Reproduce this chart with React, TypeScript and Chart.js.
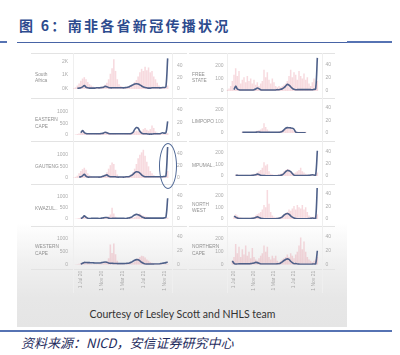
import React, { useEffect, useRef } from "react";
import { Chart, registerables } from "chart.js";
Chart.register(...registerables);

// ---------- DATA ----------
const dates = [
  "21 May 20", "1 Jun 20", "11 Jun 20", "21 Jun 20", "1 Jul 20", "11 Jul 20", "21 Jul 20", "1 Aug 20", "11 Aug 20", "21 Aug 20",
  "1 Sep 20", "11 Sep 20", "21 Sep 20", "1 Oct 20", "11 Oct 20", "21 Oct 20", "1 Nov 20", "11 Nov 20", "21 Nov 20", "1 Dec 20",
  "11 Dec 20", "21 Dec 20", "1 Jan 21", "11 Jan 21", "21 Jan 21", "1 Feb 21", "11 Feb 21", "21 Feb 21", "1 Mar 21", "11 Mar 21",
  "21 Mar 21", "1 Apr 21", "11 Apr 21", "21 Apr 21", "1 May 21", "11 May 21", "21 May 21", "1 Jun 21", "11 Jun 21", "21 Jun 21",
  "1 Jul 21", "11 Jul 21", "21 Jul 21", "1 Aug 21", "11 Aug 21", "21 Aug 21", "1 Sep 21", "11 Sep 21", "21 Sep 21", "1 Oct 21",
  "11 Oct 21", "21 Oct 21", "1 Nov 21", "11 Nov 21", "21 Nov 21", "1 Dec 21", "11 Dec 21",
];
const xTickLabels = ["1 Jul 20", "1 Nov 20", "1 Mar 21", "1 Jul 21", "1 Nov 21"];
const leftTicksNational = [0, 1000, 2000];
const leftTicksLarge = [0, 500, 1000];
const leftTicksSmall = [0, 100, 200];
const rightTicks = [0, 20, 40];

const saBars = [
  60, 120, 250, 400, 600, 750, 850, 700, 500, 350,
  250, 180, 130, 110, 120, 150, 170, 220, 300, 450,
  700, 1100, 1500, 2150, 1300, 700, 350, 220, 160, 130,
  140, 180, 220, 280, 350, 500, 650, 900, 1200, 1450,
  1300, 1600, 1350, 1550, 1200, 1300, 900, 700, 450, 250,
  150, 100, 80, 90, 250, null, null,
];
const saLine = [
  null, null, 1, 1.5, 2, 3.5, 6, 3, 2, 1.5,
  1.5, 1.5, 1.5, 2, 2, 2, 2.5, 3, 4.5, 4,
  2.5, 2, 2, 2, 2, 2, 2, 2, 2, 2,
  2.5, 3, 4, 5.5, 7, 8.5, 9, 8.5, 7, 5,
  3.5, 2.5, 2, 1.5, 1.5, 2, 2, 2, 2, 2,
  2, 2.5, 2.5, 3.5, 52, null, null,
];
const ecBars = [
  0, 20, 40, 60, 80, 120, 100, 80, 50, 40,
  30, 30, 30, 40, 50, 60, 80, 100, 130, 120,
  100, 80, 60, 50, 40, 30, 30, 30, 30, 30,
  40, 50, 60, 80, 100, 150, 180, 160, 120, 150,
  250, 300, 220, 180, 250, 400, 300, 150, 100, 60,
  40, 30, 30, 40, 80, null, null,
];
const ecLine = [
  null, null, null, null, 3.5, 7, 4, 2.5, 2, 2,
  2, 2, 2, 2, 2, 2, 2.5, 3, 4.5, 3.5,
  2.5, 2, 2, 2, 2, 2, 2, 2, 2, 2,
  2, 2, 2, 2.5, 4, 9, 12, 11, 6, 3,
  2, 2, 2, 1.5, 1.5, 1.5, 2, 2, 2, 2,
  2.5, 3.5, 3, 3.5, 22, null, null,
];
const gpBars = [
  20, 50, 100, 200, 300, 380, 440, 350, 200, 120,
  80, 60, 50, 50, 60, 70, 80, 100, 150, 250,
  400, 550, 660, 600, 350, 150, 80, 60, 50, 50,
  60, 80, 100, 150, 250, 400, 600, 850, 1000, 1100,
  1210, 950, 700, 500, 300, 200, 120, 80, 60, 40,
  30, 30, 40, 80, 300, null, null,
];
const gpLine = [
  null, null, null, 1.5, 2, 3.5, 6, 3, 1.5, 1.5,
  1.5, 1.5, 1.5, 1.5, 1.5, 1.5, 2, 3, 4, 5,
  3, 2, 2, 2, 2, 1.5, 1.5, 1.5, 1.5, 1.5,
  2, 2, 2.5, 4, 6, 8.5, 10, 9.5, 8, 5,
  3, 2, 2, 2, 2, 2, 2, 2, 2, 2,
  2, 2, 2.5, 3, 51, null, null,
];
const kznBars = [
  0, 10, 20, 40, 60, 100, 150, 90, 50, 30,
  20, 20, 20, 20, 20, 30, 40, 50, 60, 80,
  120, 200, 500, 250, 100, 50, 30, 20, 20, 20,
  20, 30, 40, 50, 60, 80, 120, 200, 250, 180,
  150, 120, 100, 80, 60, 50, 40, 30, 20, 20,
  20, 20, 20, 30, 60, null, null,
];
const kznLine = [
  null, null, null, null, 1, 2.5, 5.5, 3, 1.5, 1,
  1, 1, 1, 1, 1, 1, 1.5, 2, 2.5, 2.5,
  1.5, 1, 1, 1, 1, 1, 1, 1, 1, 1,
  1, 1.5, 2, 3, 5, 7, 8, 7.5, 6, 4,
  2.5, 1.5, 1.5, 1.5, 1.5, 1.5, 1.5, 1.5, 1.5, 1.5,
  1.5, 1.5, 2, 3, 36, null, null,
];
const wcBars = [
  0, 10, 20, 40, 60, 80, 100, 80, 60, 40,
  30, 20, 20, 20, 20, 30, 40, 60, 80, 120,
  250, 780, 450, 820, 400, 150, 60, 40, 30, 20,
  20, 30, 40, 60, 80, 120, 180, 250, 300, 350,
  330, 280, 200, 150, 100, 80, 60, 40, 30, 20,
  20, 20, 20, 30, 40, null, null,
];
const wcLine = [
  null, null, null, null, 0.5, 2, 3.3, 3.2, 3, 3,
  2.8, 2.8, 2.5, 2.5, 2.5, 2.5, 3, 3.5, 3.8, 3.5,
  2.5, 2, 2, 1.8, 1.8, 1.5, 1.5, 1.5, 1.5, 1.5,
  1.8, 2, 2.5, 3.5, 5, 6.5, 7.3, 7, 5.5, 3.5,
  2, 1, 0.8, 0.8, 0.8, 0.8, 0.8, 1, 1, 1,
  1.5, 2, 2.5, 3, 4, null, null,
];
const fsBars = [
  10, 20, 40, 80, 130, 183, 120, 160, 60, 90,
  110, 70, 120, 80, 100, 60, 90, 50, 70, 40,
  60, 80, 170, 110, 150, 90, 60, 100, 70, 40,
  30, 40, 30, 40, 50, 60, 80, 120, 170, 110,
  150, 130, 90, 160, 120, 100, 140, 90, 110, 60,
  40, 70, 100, 50, 80, null, null,
];
const fsLine = [
  null, null, null, null, 2, 7.3, 3, 2, 1.5, 1.5,
  1.5, 1.5, 1.5, 1.5, 1.5, 1.5, 2, 3, 4.6, 3.5,
  2, 1.5, 1.5, 1.5, 1.5, 1.5, 1.5, 1.5, 1.5, 1.5,
  2, 2, 2.5, 3.5, 5, 7.5, 10, 9, 6.5, 4,
  2.5, 2, 2, 2, 2, 2, 2, 2, 2, 2,
  2, 2, 2.5, 3, 50, null, null,
];
const lpBars = [
  null, null, null, null, null, null, null, null, null, 10,
  10, 10, 10, 10, 10, 10, 10, 15, 20, 25,
  30, 40, 82, 50, 30, 20, 10, 10, 10, 10,
  10, 15, 20, 25, 30, 40, 50, 45, 40, 30,
  20, 15, 10, 10, 10, 10, 10, 10, null, null,
  null, null, null, null, null, null, null,
];
const lpLine = [
  null, null, null, null, null, null, null, null, null, 1,
  1, 1, 1, 1, 1, 1, 1, 1.2, 1.5, 1.5,
  1.2, 1, 1, 1, 1, 1, 1, 1, 1, 1,
  1, 1.2, 1.5, 2.5, 5, 7.5, 8.4, 8.2, 8, 7.5,
  6, 1.5, 0.5, 0.5, 0.5, 0.5, 0.5, 0.5, null, null,
  null, null, null, null, null, null, null,
];
const mpBars = [
  0, 0, 0, 0, 0, 10, 15, 10, 10, 10,
  10, 10, 10, 10, 10, 15, 20, 20, 30, 40,
  50, 70, 117, 90, 100, 40, 20, 15, 10, 10,
  10, 15, 20, 25, 40, 50, 60, 55, 40, 30,
  25, 30, 40, 50, 70, 40, 30, 20, 15, 10,
  10, 10, 15, 20, 30, null, null,
];
const mpLine = [
  null, null, null, null, null, 1, 1, 0.8, 0.8, 0.8,
  0.8, 0.8, 0.8, 0.8, 0.8, 1, 1.5, 2, 3, 2.5,
  1, 0.8, 0.8, 0.5, 0.5, 0.5, 0.5, 0.5, 0.5, 0.5,
  0.5, 0.8, 1, 2, 4, 7, 9, 8.5, 7, 4,
  1.5, 0.8, 0.8, 0.8, 0.8, 0.8, 0.8, 0.8, 0.8, 1,
  1.5, 2, 1.5, 1.5, 41, null, null,
];
const nwBars = [
  0, 0, 0, 0, 20, 40, 30, 20, 15, 10,
  10, 10, 10, 10, 10, 15, 20, 30, 40, 50,
  60, 80, 120, 100, 246, 130, 60, 30, 20, 15,
  10, 15, 20, 30, 40, 50, 60, 80, 70, 90,
  110, 80, 120, 100, 90, 120, 80, 100, 60, 30,
  20, 15, 20, 30, 40, null, null,
];
const nwLine = [
  null, null, null, null, 4.3, 3, 1.5, 0.8, 0.8, 0.8,
  0.8, 0.8, 0.8, 0.8, 0.8, 1, 1.5, 2.5, 3.3, 2.5,
  1.2, 0.8, 0.5, 0.5, 0.5, 0.5, 0.5, 0.5, 0.5, 0.5,
  0.8, 1.2, 2, 3.5, 6, 8, 8.6, 7.5, 5, 3,
  1.5, 0.8, 0.5, 0.5, 0.5, 0.5, 0.5, 0.5, 0.5, 0.8,
  1, 1.5, 1, 0.8, 55, null, null,
];
const ncBars = [
  0, 0, 0, 30, 60, 162, 90, 140, 60, 120,
  80, 150, 70, 100, 50, 130, 60, 40, 30, 50,
  70, 90, 150, 100, 140, 60, 40, 70, 50, 70,
  30, 20, 30, 40, 50, 60, 80, 60, 90, 70,
  50, 80, 100, 150, 212, 120, 180, 100, 60, 40,
  30, 20, 30, 40, 60, null, null,
];
const ncLine = [
  null, null, null, 5.5, 2, 0.8, 1, 1.2, 1.2, 1.2,
  1.2, 1.2, 1.2, 1.2, 1.5, 2, 2.5, 3.3, 3, 2,
  1, 1, 1, 1, 1, 1, 1, 1, 1, 1,
  1.2, 1.5, 2.5, 4, 6, 7.5, 8.4, 7.5, 5, 3,
  1.5, 1.5, 1, 0.8, 0.5, 0.5, 0.5, 0.5, 0.5, 0.5,
  0.5, 0.8, 1, 1, 20, null, null,
];

type Series = (number | null)[];
type Panel = { name: string[]; bars: Series; line: Series; leftTicks: number[]; kFormat?: boolean; col: number; row: number };

const panels: Panel[] = [
  { name: ["South", "Africa"], bars: saBars, line: saLine, leftTicks: leftTicksNational, kFormat: true, col: 0, row: 0 },
  { name: ["EASTERN", "CAPE"], bars: ecBars, line: ecLine, leftTicks: leftTicksLarge, col: 0, row: 1 },
  { name: ["GAUTENG"], bars: gpBars, line: gpLine, leftTicks: leftTicksLarge, col: 0, row: 2 },
  { name: ["KWAZUL.."], bars: kznBars, line: kznLine, leftTicks: leftTicksLarge, col: 0, row: 3 },
  { name: ["WESTERN", "CAPE"], bars: wcBars, line: wcLine, leftTicks: leftTicksLarge, col: 0, row: 4 },
  { name: ["FREE", "STATE"], bars: fsBars, line: fsLine, leftTicks: leftTicksSmall, col: 1, row: 0 },
  { name: ["LIMPOPO"], bars: lpBars, line: lpLine, leftTicks: leftTicksSmall, col: 1, row: 1 },
  { name: ["MPUMAL.."], bars: mpBars, line: mpLine, leftTicks: leftTicksSmall, col: 1, row: 2 },
  { name: ["NORTH", "WEST"], bars: nwBars, line: nwLine, leftTicks: leftTicksSmall, col: 1, row: 3 },
  { name: ["NORTHERN", "CAPE"], bars: ncBars, line: ncLine, leftTicks: leftTicksSmall, col: 1, row: 4 },
];

// ---------- LAYOUT ----------
const columns = [
  { left: 30, leftW: 43, plotW: 99, rightW: 18, labelX: 35, lpad: 5, rpad: 5 },
  { left: 188, leftW: 38.5, plotW: 95, rightW: 18.5, labelX: 192, lpad: 3, rpad: 4 },
];
const rowGeom = [
  [
    { top: 55, bottom: 93, lpx: 33, rpx: 28 },
    { top: 101, bottom: 138.7, lpx: 27.7, rpx: 29.4 },
    { top: 145, bottom: 181.3, lpx: 27.3, rpx: 29 },
    { top: 187, bottom: 222.7, lpx: 26.7, rpx: 27.4 },
    { top: 229, bottom: 264.7, lpx: 27.4, rpx: 29.4 },
  ],
  [
    { top: 55, bottom: 93.3, lpx: 27.3, rpx: 29 },
    { top: 101, bottom: 136, lpx: 26.7, rpx: 28.7 },
    { top: 145, bottom: 178.7, lpx: 26.4, rpx: 27.7 },
    { top: 187, bottom: 221.3, lpx: 26, rpx: 28 },
    { top: 229, bottom: 264.7, lpx: 26.4, rpx: 28.7 },
  ],
];
const separatorsY = [52.5, 97.5, 141, 183.5, 225.5, 268.5];

const TICK_FONT = { size: 5, family: "'Liberation Sans', Arial, sans-serif" };
const TICK_COLOR = "#ababab";
const LINE_COLOR = "#4e6089";
const BAR_COLOR = "rgba(228,132,148,0.3)";

function PanelChart({ p }: { p: Panel }) {
  const ref = useRef<HTMLCanvasElement>(null);
  const c = columns[p.col];
  const g = rowGeom[p.col][p.row];
  const isBottom = p.row === 4;
  const canvasTop = Math.floor(g.top) - 6;
  const padTop = g.top - canvasTop;
  const plotH = g.bottom - g.top;
  const xAxisH = isBottom ? 30 : 0;
  const height = Math.ceil(padTop + plotH + (isBottom ? xAxisH : 4));
  const padBottom = height - padTop - plotH - xAxisH;
  const width = c.leftW + c.plotW + c.rightW;
  const leftMax = (p.leftTicks[p.leftTicks.length - 1] * plotH) / g.lpx;
  const rightMax = (rightTicks[rightTicks.length - 1] * plotH) / g.rpx;

  useEffect(() => {
    const chart = new Chart(ref.current as HTMLCanvasElement, {
      type: "bar",
      data: {
        labels: dates,
        datasets: [
          {
            type: "line",
            data: p.line,
            yAxisID: "y1",
            borderColor: LINE_COLOR,
            borderWidth: 1.6,
            pointRadius: 0,
            tension: 0.35,
            order: 0,
          } as any,
          {
            type: "bar",
            data: p.bars,
            yAxisID: "y",
            backgroundColor: BAR_COLOR,
            barPercentage: 0.9,
            categoryPercentage: 1,
            order: 1,
          } as any,
        ],
      },
      options: {
        animation: false,
        responsive: false,
        maintainAspectRatio: false,
        events: [],
        layout: { padding: { top: padTop, bottom: padBottom, left: 0, right: 0 } },
        plugins: { legend: { display: false }, tooltip: { enabled: false } },
        scales: {
          x: {
            display: isBottom,
            grid: { display: false, drawTicks: false },
            border: { display: false },
            ticks: {
              autoSkip: false,
              minRotation: 90,
              maxRotation: 90,
              padding: 6,
              font: TICK_FONT,
              color: TICK_COLOR,
              callback: (_v: any, i: number) => (xTickLabels.includes(dates[i]) ? dates[i] : ""),
            },
            afterFit: (a: any) => {
              a.height = xAxisH;
            },
          },
          y: {
            position: "left",
            min: 0,
            max: leftMax,
            grid: { display: false, drawTicks: false },
            border: { display: false },
            ticks: {
              padding: c.lpad,
              font: TICK_FONT,
              color: TICK_COLOR,
              callback: (v: any) => (p.kFormat ? `${Number(v) / 1000}K` : `${v}`),
            },
            afterBuildTicks: (a: any) => {
              a.ticks = p.leftTicks.map((v) => ({ value: v }));
            },
            afterFit: (a: any) => {
              a.width = c.leftW;
            },
          },
          y1: {
            position: "right",
            min: 0,
            max: rightMax,
            grid: { display: false, drawTicks: false },
            border: { display: false },
            ticks: { padding: c.rpad, font: TICK_FONT, color: TICK_COLOR },
            afterBuildTicks: (a: any) => {
              a.ticks = rightTicks.map((v) => ({ value: v }));
            },
            afterFit: (a: any) => {
              a.width = c.rightW;
            },
          },
        },
      } as any,
    });
    return () => chart.destroy();
  }, []);

  return (
    <canvas
      ref={ref}
      width={width}
      height={height}
      style={{ position: "absolute", left: c.left, top: canvasTop, width, height }}
    />
  );
}

export default function App() {
  const abs = (s: React.CSSProperties): React.CSSProperties => ({ position: "absolute", ...s });
  return (
    <div style={{ position: "fixed", left: 0, top: 0, width: 400, height: 355, background: "#fff", overflow: "hidden" }}>
      {/* Title */}
      <div
        style={abs({
          left: 19,
          top: 15,
          fontFamily: "'Noto Sans CJK SC', sans-serif",
          fontWeight: 700,
          fontSize: 14,
          letterSpacing: 2.3,
          color: "#2d4b8e",
          whiteSpace: "nowrap",
          lineHeight: "20px",
        })}
      >
        图 6：南非各省新冠传播状况
      </div>
      <div style={abs({ left: 0, top: 41, width: 7, height: 2, background: "#5673b3" })} />
      <div style={abs({ left: 17, top: 41.5, width: 330, height: 1.2, background: "#4764a6" })} />
      <div style={abs({ left: 347, top: 41, width: 45, height: 2, background: "#5673b3" })} />

      {/* Slide */}
      <div
        style={abs({
          left: 17,
          top: 48,
          width: 330,
          height: 279,
          background: "linear-gradient(to bottom, #ffffff 0px, #ffffff 175px, #f0f0f0 215px, #e7e7e7 250px, #e5e5e5 279px)",
        })}
      />
      {/* separators */}
      {separatorsY.map((y, i) => (
        <React.Fragment key={i}>
          <div style={abs({ left: 31, top: y, width: 156, height: 1, background: "#e3e3e3" })} />
          <div style={abs({ left: 189, top: y, width: 146, height: 1, background: "#e3e3e3" })} />
        </React.Fragment>
      ))}
      {[73, 172, 226.5, 321.5].map((x, i) => (
        <div key={i} style={abs({ left: x, top: 52.5, width: 1, height: 240, background: "#efefef" })} />
      ))}

      {panels.map((p, i) => (
        <PanelChart key={i} p={p} />
      ))}

      {/* panel names */}
      {panels.map((p, i) => {
        const g = rowGeom[p.col][p.row];
        const mid = (g.top + g.bottom) / 2 + 4;
        const h = p.name.length * 6.5;
        return (
          <div
            key={"n" + i}
            style={abs({
              left: columns[p.col].labelX,
              top: mid - h / 2,
              fontFamily: "'Liberation Sans', Arial, sans-serif",
              fontSize: 4.8,
              lineHeight: "6.5px",
              color: "#909090",
              whiteSpace: "nowrap",
            })}
          >
            {p.name.map((t, j) => (
              <div key={j}>{t}</div>
            ))}
          </div>
        );
      })}

      {/* highlight ellipse on Gauteng */}
      <div
        style={abs({
          left: 159,
          top: 143,
          width: 18,
          height: 46,
          boxSizing: "border-box",
          border: "1.3px solid #4d6694",
          borderRadius: "50%",
        })}
      />

      <div
        style={abs({
          left: 17,
          top: 307,
          width: 331,
          textAlign: "center",
          fontFamily: "Lato, 'Open Sans', sans-serif",
          fontSize: 10.5,
          lineHeight: "14px",
          color: "#333",
        })}
      >
        Courtesy of Lesley Scott and NHLS team
      </div>

      <div style={abs({ left: 0, top: 330, width: 392, height: 2, background: "#5673b3" })} />
      <div
        style={abs({
          left: 21,
          top: 334,
          fontFamily: "'Noto Sans CJK SC', sans-serif",
          fontStyle: "italic",
          fontSize: 13,
          lineHeight: "17px",
          color: "#1f2d5e",
          whiteSpace: "nowrap",
        })}
      >
        资料来源：NICD，安信证券研究中心
      </div>
    </div>
  );
}
